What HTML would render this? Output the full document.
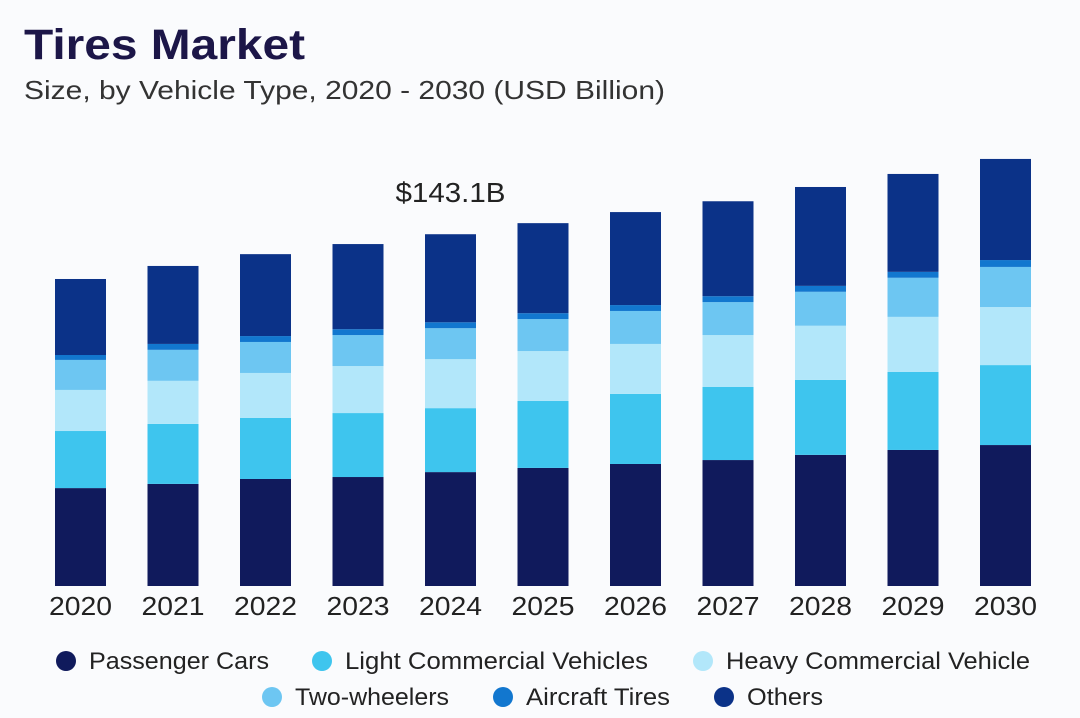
<!DOCTYPE html>
<html><head><meta charset="utf-8"><style>
body{margin:0;background:#fafbfd;font-family:"Liberation Sans",sans-serif;}
#wrap{position:relative;width:1080px;height:718px;overflow:hidden;}
</style></head><body>
<div id="wrap">
<svg id="chart" width="1080" height="718">
<text x="24" y="59" font-size="43" font-weight="bold" fill="#1c1648" textLength="281" lengthAdjust="spacingAndGlyphs" font-family="Liberation Sans, sans-serif">Tires Market</text>
<text x="24" y="99" font-size="26" fill="#333" textLength="641" lengthAdjust="spacingAndGlyphs" font-family="Liberation Sans, sans-serif">Size, by Vehicle Type, 2020 - 2030 (USD Billion)</text>
<g id="bars"></g><g id="xlabels"></g><g id="legend"></g>
</svg></div>
<script>
const years=["2020","2021","2022","2023","2024","2025","2026","2027","2028","2029","2030"];
const passengerCars=[39.8,41.5,43.5,44.3,46.3,48.0,49.6,51.2,53.3,55.3,57.3];
const lightCommercial=[23.2,24.4,24.8,26.0,26.0,27.2,28.5,29.7,30.5,31.7,32.5];
const heavyCommercial=[16.7,17.5,18.3,19.1,19.9,20.3,20.3,21.1,22.0,22.4,23.6];
const twoWheelers=[12.2,12.6,12.6,12.6,12.6,13.0,13.4,13.4,13.8,15.9,16.3];
const aircraftTires=[2.0,2.4,2.4,2.4,2.4,2.4,2.4,2.4,2.4,2.4,2.8];
const others=[30.9,31.7,33.3,34.6,35.8,36.6,37.8,38.6,40.2,39.8,41.1];
const seriesNames=["Passenger Cars","Light Commercial Vehicles","Heavy Commercial Vehicle","Two-wheelers","Aircraft Tires","Others"];
const annotationYear="2024", annotationLabel="$143.1B";

const NS="http://www.w3.org/2000/svg";
const series=[passengerCars,lightCommercial,heavyCommercial,twoWheelers,aircraftTires,others];
const colors=["#101a5c","#3ec5ee","#b2e7fa","#6dc6f2","#1277cf","#0b3288"];
const keys=["passenger-cars","light-commercial","heavy-commercial","two-wheelers","aircraft-tires","others"];
const legendWidths=[180,303,304,154,144,76];
const base=586, scale=2.46, x0=55, step=92.5, bw=51;
const xPos=i=>x0+i*step;
const yH=v=>v*scale;
function mk(t,a){const e=document.createElementNS(NS,t);for(const k in a)e.setAttribute(k,a[k]);return e;}
const gB=document.getElementById('bars'),gX=document.getElementById('xlabels'),gL=document.getElementById('legend');
years.forEach((yr,i)=>{
  let y=base;
  series.forEach((s,j)=>{
    const h=yH(s[i]);y-=h;
    const r=mk('rect',{x:xPos(i),y:y,width:bw,height:h,fill:colors[j]});
    
    
    gB.appendChild(r);
  });
  if(yr===annotationYear){
    const t=mk('text',{x:xPos(i)+bw/2,y:y-32,'text-anchor':'middle','font-size':28,textLength:110,lengthAdjust:'spacingAndGlyphs',fill:'#222','font-family':'Liberation Sans, sans-serif'});
    t.textContent=annotationLabel;
    
    
    gB.appendChild(t);
  }
  const t=mk('text',{x:xPos(i)+bw/2,y:615,'text-anchor':'middle','font-size':26,textLength:63,lengthAdjust:'spacingAndGlyphs',fill:'#222','font-family':'Liberation Sans, sans-serif'});
  t.textContent=yr;
  
  
  gX.appendChild(t);
});
const lp=[[66,661],[322,661],[703,661],[272,697],[503,697],[724,697]];
seriesNames.forEach((n,j)=>{
  const g=mk('g',{});
  
  
  g.appendChild(mk('circle',{cx:lp[j][0],cy:lp[j][1],r:10,fill:colors[j]}));
  const t=mk('text',{x:lp[j][0]+23,y:lp[j][1]+8,'font-size':24,textLength:legendWidths[j],lengthAdjust:'spacingAndGlyphs',fill:'#222','font-family':'Liberation Sans, sans-serif'});
  t.textContent=n;
  g.appendChild(t);
  gL.appendChild(g);
});
</script>
</body></html>
